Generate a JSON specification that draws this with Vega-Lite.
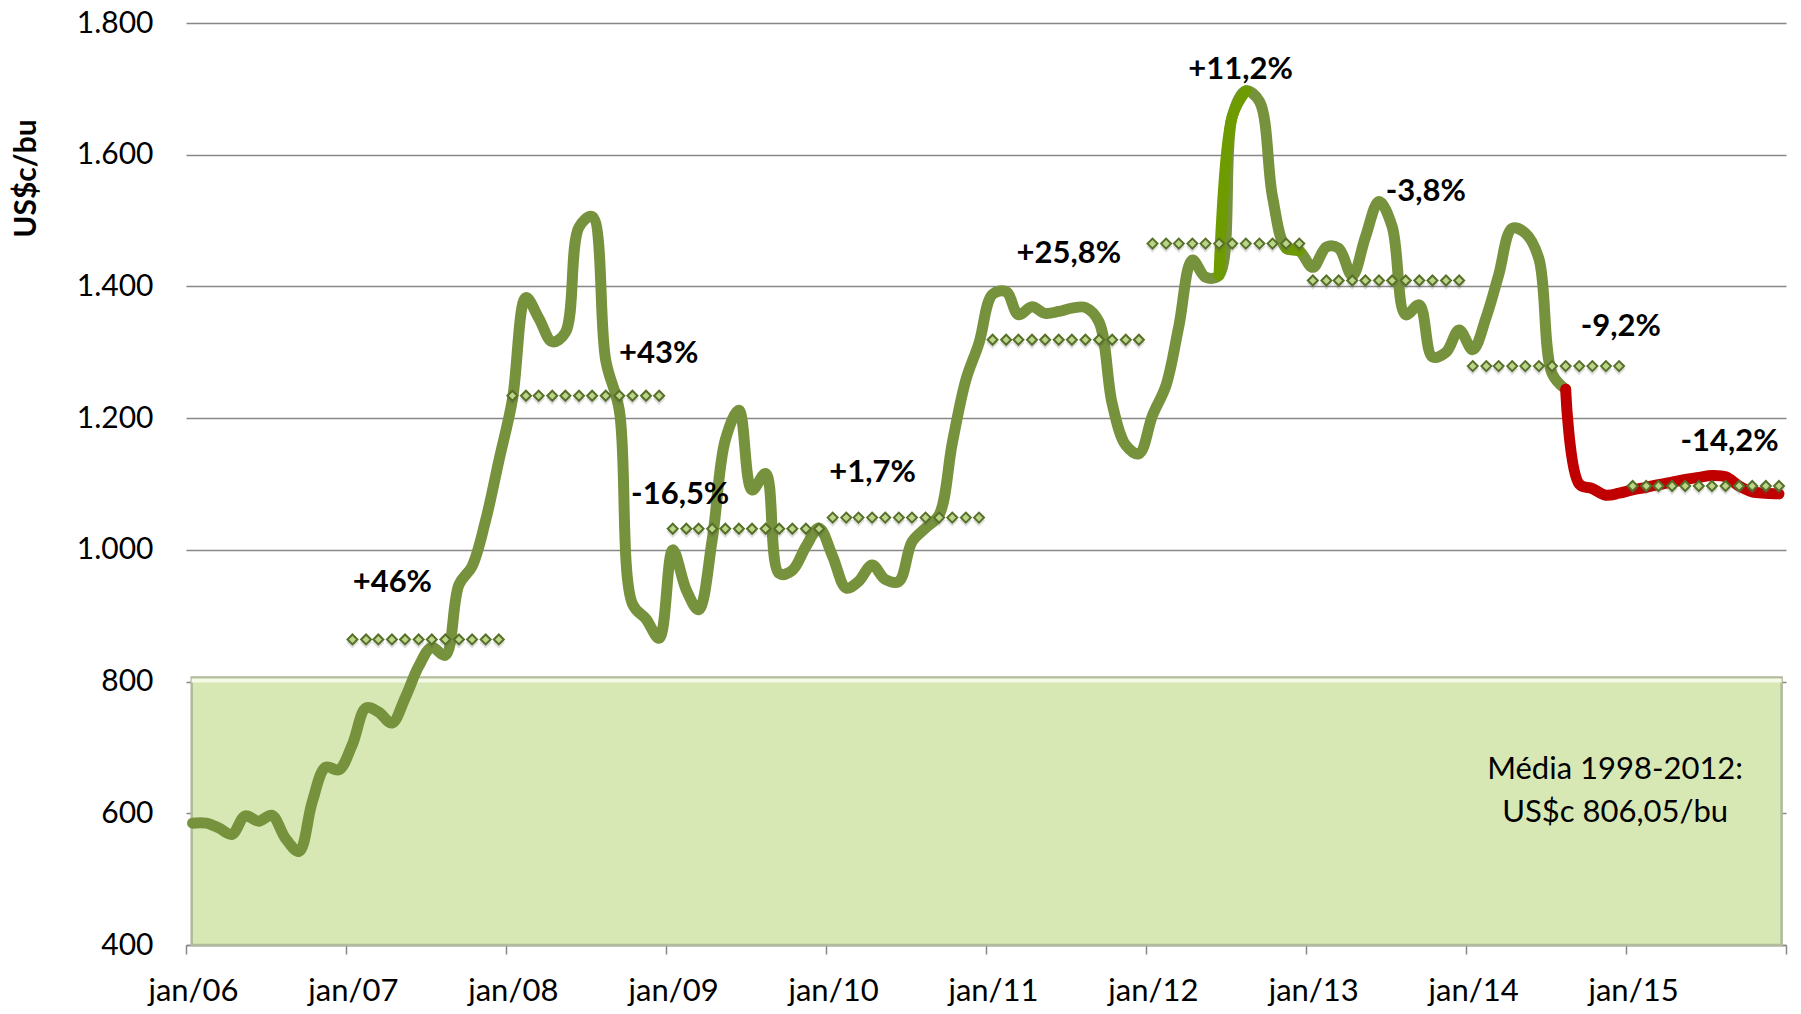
{
  "$schema": "https://vega.github.io/schema/vega-lite/v6.json",
  "width": 1600,
  "height": 922,
  "autosize": {"type": "none"},
  "padding": {"left": 186, "top": 23, "right": 15, "bottom": 69},
  "background": "white",
  "config": {"view": {"stroke": null}, "font": "Lato"},
  "datasets": {
    "p": [
      {"d":"2006-01-16","v":585,"s":"g"},{"d":"2006-02-16","v":585,"s":"g"},{"d":"2006-03-16","v":578,"s":"g"},{"d":"2006-04-16","v":568,"s":"g"},{"d":"2006-05-16","v":596,"s":"g"},{"d":"2006-06-16","v":588,"s":"g"},{"d":"2006-07-16","v":597,"s":"g"},{"d":"2006-08-16","v":562,"s":"g"},{"d":"2006-09-16","v":542,"s":"g"},{"d":"2006-10-16","v":617,"s":"g"},{"d":"2006-11-16","v":670,"s":"g"},{"d":"2006-12-16","v":666,"s":"g"},
      {"d":"2007-01-16","v":705,"s":"g","a":864},{"d":"2007-02-16","v":760,"s":"g","a":864},{"d":"2007-03-16","v":754,"s":"g","a":864},{"d":"2007-04-16","v":737,"s":"g","a":864},{"d":"2007-05-16","v":775,"s":"g","a":864},{"d":"2007-06-16","v":823,"s":"g","a":864},{"d":"2007-07-16","v":852,"s":"g","a":864},{"d":"2007-08-16","v":840,"s":"g","a":864},{"d":"2007-09-16","v":947,"s":"g","a":864},{"d":"2007-10-16","v":975,"s":"g","a":864},{"d":"2007-11-16","v":1045,"s":"g","a":864},{"d":"2007-12-16","v":1135,"s":"g","a":864},
      {"d":"2008-01-16","v":1228,"s":"g","a":1234},{"d":"2008-02-16","v":1383,"s":"g","a":1234},{"d":"2008-03-16","v":1352,"s":"g","a":1234},{"d":"2008-04-16","v":1316,"s":"g","a":1234},{"d":"2008-05-16","v":1330,"s":"g","a":1234},{"d":"2008-06-16","v":1490,"s":"g","a":1234},{"d":"2008-07-16","v":1506,"s":"g","a":1234},{"d":"2008-08-16","v":1288,"s":"g","a":1234},{"d":"2008-09-16","v":1212,"s":"g","a":1234},{"d":"2008-10-16","v":918,"s":"g","a":1234},{"d":"2008-11-16","v":895,"s":"g","a":1234},{"d":"2008-12-16","v":866,"s":"g","a":1234},
      {"d":"2009-01-16","v":1000,"s":"g","a":1032},{"d":"2009-02-16","v":939,"s":"g","a":1032},{"d":"2009-03-16","v":909,"s":"g","a":1032},{"d":"2009-04-16","v":1015,"s":"g","a":1032},{"d":"2009-05-16","v":1167,"s":"g","a":1032},{"d":"2009-06-16","v":1212,"s":"g","a":1032},{"d":"2009-07-16","v":1091,"s":"g","a":1032},{"d":"2009-08-16","v":1116,"s":"g","a":1032},{"d":"2009-09-16","v":964,"s":"g","a":1032},{"d":"2009-10-16","v":969,"s":"g","a":1032},{"d":"2009-11-16","v":1005,"s":"g","a":1032},{"d":"2009-12-16","v":1033,"s":"g","a":1032},
      {"d":"2010-01-16","v":990,"s":"g","a":1049},{"d":"2010-02-16","v":942,"s":"g","a":1049},{"d":"2010-03-16","v":952,"s":"g","a":1049},{"d":"2010-04-16","v":977,"s":"g","a":1049},{"d":"2010-05-16","v":955,"s":"g","a":1049},{"d":"2010-06-16","v":952,"s":"g","a":1049},{"d":"2010-07-16","v":1012,"s":"g","a":1049},{"d":"2010-08-16","v":1033,"s":"g","a":1049},{"d":"2010-09-16","v":1053,"s":"g","a":1049},{"d":"2010-10-16","v":1162,"s":"g","a":1049},{"d":"2010-11-16","v":1258,"s":"g","a":1049},{"d":"2010-12-16","v":1314,"s":"g","a":1049},
      {"d":"2011-01-16","v":1388,"s":"g","a":1319},{"d":"2011-02-16","v":1392,"s":"g","a":1319},{"d":"2011-03-16","v":1357,"s":"g","a":1319},{"d":"2011-04-16","v":1369,"s":"g","a":1319},{"d":"2011-05-16","v":1359,"s":"g","a":1319},{"d":"2011-06-16","v":1362,"s":"g","a":1319},{"d":"2011-07-16","v":1367,"s":"g","a":1319},{"d":"2011-08-16","v":1368,"s":"g","a":1319},{"d":"2011-09-16","v":1346,"s":"g","a":1319},{"d":"2011-10-16","v":1222,"s":"g","a":1319},{"d":"2011-11-16","v":1159,"s":"g","a":1319},{"d":"2011-12-16","v":1146,"s":"g","a":1319},
      {"d":"2012-01-16","v":1204,"s":"g","a":1465},{"d":"2012-02-16","v":1250,"s":"g","a":1465},{"d":"2012-03-16","v":1339,"s":"g","a":1465},{"d":"2012-04-16","v":1440,"s":"g","a":1465},{"d":"2012-05-16","v":1414,"s":"g","a":1465},{"d":"2012-06-16","v":1417,"s":"g","a":1465,"h":"a"},{"d":"2012-07-16","v":1658,"s":"g","a":1465,"h":"a"},{"d":"2012-08-16","v":1697,"s":"g","a":1465,"h":"a"},{"d":"2012-09-16","v":1681,"s":"g","a":1465},{"d":"2012-10-16","v":1536,"s":"g","a":1465},{"d":"2012-11-16","v":1458,"s":"g","a":1465,"h":"b"},{"d":"2012-12-16","v":1454,"s":"g","a":1465,"h":"b"},
      {"d":"2013-01-16","v":1429,"s":"g","a":1409},{"d":"2013-02-16","v":1460,"s":"g","a":1409},{"d":"2013-03-16","v":1458,"s":"g","a":1409},{"d":"2013-04-16","v":1416,"s":"g","a":1409},{"d":"2013-05-16","v":1475,"s":"g","a":1409},{"d":"2013-06-16","v":1529,"s":"g","a":1409},{"d":"2013-07-16","v":1491,"s":"g","a":1409},{"d":"2013-08-16","v":1357,"s":"g","a":1409},{"d":"2013-09-16","v":1372,"s":"g","a":1409},{"d":"2013-10-16","v":1293,"s":"g","a":1409},{"d":"2013-11-16","v":1300,"s":"g","a":1409},{"d":"2013-12-16","v":1334,"s":"g","a":1409},
      {"d":"2014-01-16","v":1304,"s":"g","a":1279},{"d":"2014-02-16","v":1354,"s":"g","a":1279},{"d":"2014-03-16","v":1417,"s":"g","a":1279},{"d":"2014-04-16","v":1488,"s":"g","a":1279},{"d":"2014-05-16","v":1481,"s":"g","a":1279},{"d":"2014-06-16","v":1442,"s":"g","a":1279},{"d":"2014-07-16","v":1268,"s":"g","a":1279},{"d":"2014-08-16","v":1244,"s":"gr","a":1279},{"d":"2014-09-16","v":1100,"s":"r","a":1279},{"d":"2014-10-16","v":1093,"s":"r","a":1279},{"d":"2014-11-16","v":1083,"s":"r","a":1279},{"d":"2014-12-16","v":1086,"s":"r","a":1279},
      {"d":"2015-01-16","v":1091,"s":"r","a":1097},{"d":"2015-02-16","v":1095,"s":"r","a":1097},{"d":"2015-03-16","v":1099,"s":"r","a":1097},{"d":"2015-04-16","v":1103,"s":"r","a":1097},{"d":"2015-05-16","v":1107,"s":"r","a":1097},{"d":"2015-06-16","v":1110,"s":"r","a":1097},{"d":"2015-07-16","v":1113,"s":"r","a":1097},{"d":"2015-08-16","v":1111,"s":"r","a":1097},{"d":"2015-09-16","v":1097,"s":"r","a":1097},{"d":"2015-10-16","v":1088,"s":"r","a":1097},{"d":"2015-11-16","v":1086,"s":"r","a":1097},{"d":"2015-12-16","v":1085,"s":"r","a":1097}
    ],
    "band": [{"d": "2006-01-14", "d2": "2015-12-22", "v": 806.05, "v2": 400}],
    "notes": [
      {"d": "2014-12-07", "v": 666, "t": "Média 1998-2012:"},
      {"d": "2014-12-07", "v": 600, "t": "US$c 806,05/bu"}
    ],
    "labels": [
      {"d": "2007-04-17", "v": 949, "t": "+46%"},
      {"d": "2008-12-15", "v": 1298, "t": "+43%"},
      {"d": "2009-02-02", "v": 1083, "t": "-16,5%"},
      {"d": "2010-04-17", "v": 1116, "t": "+1,7%"},
      {"d": "2011-07-09", "v": 1449, "t": "+25,8%"},
      {"d": "2012-08-04", "v": 1728, "t": "+11,2%"},
      {"d": "2013-10-01", "v": 1544, "t": "-3,8%"},
      {"d": "2014-12-20", "v": 1339, "t": "-9,2%"},
      {"d": "2015-08-25", "v": 1164, "t": "-14,2%"}
    ]
  },
  "encoding": {
    "x": {
      "field": "d", "type": "temporal",
      "scale": {"type": "utc", "domain": [{"year": 2006, "month": 1, "date": 1, "utc": true}, {"year": 2016, "month": 1, "date": 1, "utc": true}]},
      "title": null,
      "axis": {
        "values": [
          {"year": 2006, "month": 1, "date": 1, "utc": true},
          {"year": 2007, "month": 1, "date": 1, "utc": true},
          {"year": 2008, "month": 1, "date": 1, "utc": true},
          {"year": 2009, "month": 1, "date": 1, "utc": true},
          {"year": 2010, "month": 1, "date": 1, "utc": true},
          {"year": 2011, "month": 1, "date": 1, "utc": true},
          {"year": 2012, "month": 1, "date": 1, "utc": true},
          {"year": 2013, "month": 1, "date": 1, "utc": true},
          {"year": 2014, "month": 1, "date": 1, "utc": true},
          {"year": 2015, "month": 1, "date": 1, "utc": true},
          {"year": 2016, "month": 1, "date": 1, "utc": true}
        ],
        "labelExpr": "utcyear(datum.value) > 2015 ? '' : 'jan/' + utcFormat(datum.value, '%y')",
        "grid": false,
        "domainColor": "#878787",
        "domainWidth": 1.5,
        "tickColor": "#878787",
        "tickWidth": 1.5,
        "tickSize": 9,
        "labelFont": "Lato",
        "labelFontSize": 31,
        "labelColor": "#000000",
        "labelPadding": 22,
        "labelOffset": 7,
        "labelFlush": false,
        "labelOverlap": false
      }
    },
    "y": {
      "field": "v", "type": "quantitative",
      "scale": {"domain": [400, 1800], "nice": false, "zero": false},
      "title": "US$c/bu",
      "axis": {
        "values": [400, 600, 800, 1000, 1200, 1400, 1600, 1800],
        "labelExpr": "replace(format(datum.value, ','), ',', '.')",
        "grid": true,
        "gridColor": "#878787",
        "gridWidth": 1.5,
        "domain": false,
        "ticks": false,
        "labelPadding": 33,
        "labelFont": "Lato",
        "labelFontSize": 30,
        "labelColor": "#000000",
        "titleFont": "Lato",
        "titleFontWeight": "bold",
        "titleFontSize": 30,
        "titleColor": "#000000",
        "titleX": -160,
        "titleY": 155,
        "titleAngle": 270,
        "titleAlign": "center",
        "titleBaseline": "middle"
      }
    }
  },
  "layer": [
    {
      "data": {"name": "band"},
      "mark": {"type": "rect", "fill": "#d7e8b4", "stroke": "#b1bb9c", "strokeWidth": 2.5},
      "encoding": {
        "x2": {"field": "d2"},
        "y2": {"field": "v2"}
      }
    },
    {
      "data": {"name": "band"},
      "mark": {"type": "rule", "color": "#f5fae6", "strokeWidth": 4, "yOffset": 3},
      "encoding": {
        "x2": {"field": "d2"}
      }
    },
    {
      "data": {"name": "notes"},
      "mark": {"type": "text", "font": "Lato", "fontSize": 31, "color": "#000000", "align": "center", "baseline": "middle"},
      "encoding": {
        "text": {"field": "t"}
      }
    },
    {
      "data": {"name": "p"},
      "transform": [{"filter": "datum.s != 'r'"}],
      "mark": {"type": "line", "interpolate": "catmull-rom", "strokeWidth": 11, "color": "#76923c", "strokeCap": "round", "strokeJoin": "round"}
    },
    {
      "data": {"name": "p"},
      "transform": [{"filter": "isValid(datum.h)"}],
      "mark": {"type": "line", "interpolate": "catmull-rom", "strokeWidth": 11, "color": "#6e9b00", "strokeCap": "round", "strokeJoin": "round"},
      "encoding": {
        "detail": {"field": "h"}
      }
    },
    {
      "data": {"name": "p"},
      "transform": [{"filter": "datum.s != 'g'"}],
      "mark": {"type": "line", "interpolate": "catmull-rom", "strokeWidth": 11, "color": "#c00000", "strokeCap": "round", "strokeJoin": "round"}
    },
    {
      "data": {"name": "p"},
      "transform": [{"filter": "isValid(datum.a)"}],
      "mark": {"type": "point", "shape": "diamond", "size": 150, "filled": true, "fill": "#5a5a5a", "opacity": 0.2, "strokeWidth": 0, "yOffset": 3},
      "encoding": {
        "y": {"field": "a", "type": "quantitative", "title": "US$c/bu"}
      }
    },
    {
      "data": {"name": "p"},
      "transform": [{"filter": "isValid(datum.a)"}],
      "mark": {"type": "point", "shape": "diamond", "size": 100, "filled": true, "fill": "#bcd487", "stroke": "#56702a", "strokeWidth": 2, "opacity": 1},
      "encoding": {
        "y": {"field": "a", "type": "quantitative", "title": "US$c/bu"}
      }
    },
    {
      "data": {"name": "labels"},
      "mark": {"type": "text", "font": "Lato", "fontSize": 31, "fontWeight": "bold", "color": "#000000", "align": "center", "baseline": "middle"},
      "encoding": {
        "text": {"field": "t"}
      }
    }
  ]
}
